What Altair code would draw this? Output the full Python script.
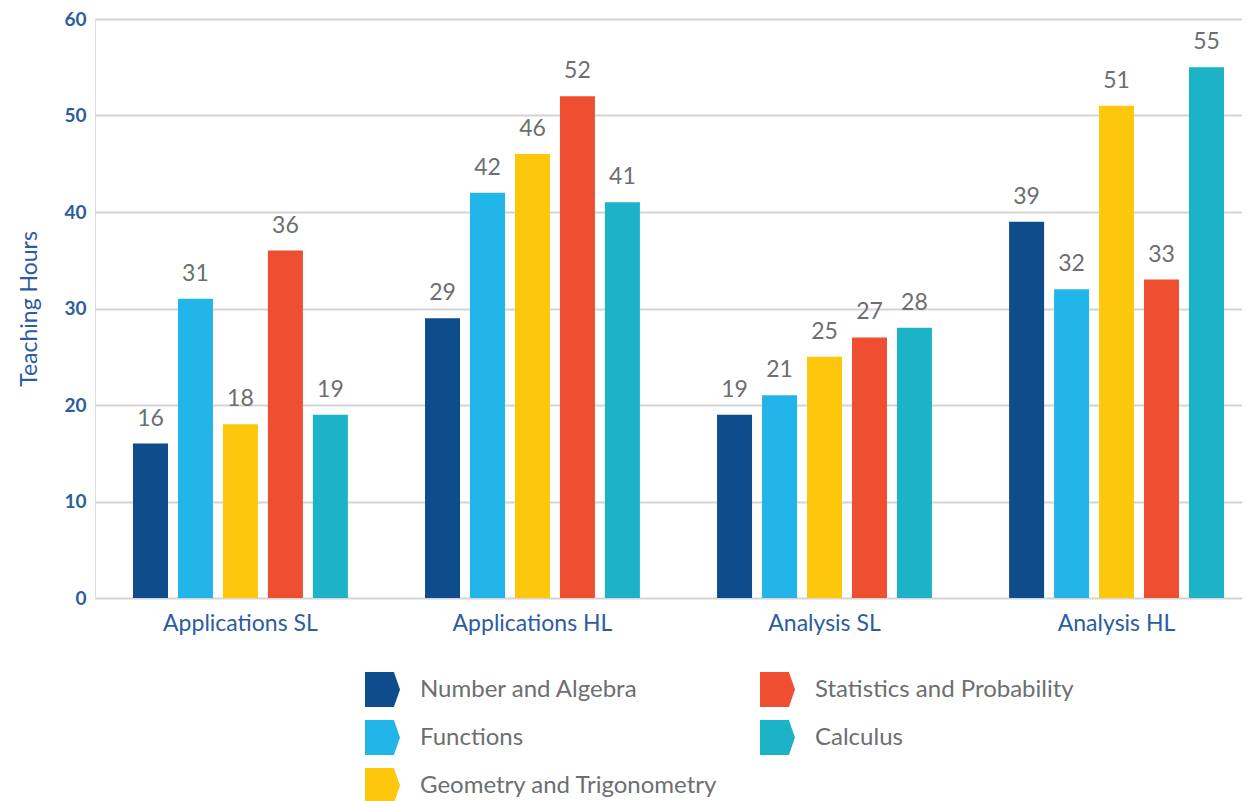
import altair as alt
import pandas as pd

courses = ["Applications SL", "Applications HL", "Analysis SL", "Analysis HL"]
topics = ["Number and Algebra", "Functions", "Geometry and Trigonometry",
          "Statistics and Probability", "Calculus"]
number_algebra = [16, 29, 19, 39]
functions = [31, 42, 21, 32]
geometry = [18, 46, 25, 51]
statistics = [36, 52, 27, 33]
calculus = [19, 41, 28, 55]

series = [number_algebra, functions, geometry, statistics, calculus]
rows = []
for t, vals in zip(topics, series):
    for c, v in zip(courses, vals):
        rows.append({"course": c, "topic": t, "hours": v})
df = pd.DataFrame(rows)

colors = ["#0e4c8c", "#22b5ea", "#fdc80c", "#ee4f31", "#1cb3c9"]

x = alt.X("course:N", sort=courses,
          scale=alt.Scale(paddingInner=0.23, paddingOuter=0.0788, align=0.717),
          axis=alt.Axis(title=None, labelAngle=0, labelFontSize=23,
                        labelColor="#2c5d9f", labelFont="Lato",
                        labelPadding=14, ticks=False, domain=False))
xo = alt.XOffset("topic:N", sort=topics,
                 scale=alt.Scale(paddingInner=0.222, paddingOuter=0.111))
y = alt.Y("hours:Q", scale=alt.Scale(domain=[0, 60]),
          axis=alt.Axis(title="Teaching Hours", values=[0, 10, 20, 30, 40, 50, 60],
                        titleFontSize=23, titleFont="Lato", titleFontWeight="normal",
                        titleColor="#2c5d9f", titlePadding=22,
                        labelFontSize=19, labelFont="Lato", labelColor="#2c5d9f",
                        labelFontWeight="bold", labelPadding=9,
                        ticks=False, domain=False, gridColor="#d4d4d4",
                        gridWidth=2))

color = alt.Color("topic:N",
                  scale=alt.Scale(domain=topics, range=colors),
                  legend=alt.Legend(title=None, orient="none", legendX=270,
                                    legendY=653, columns=2, columnPadding=42,
                                    rowPadding=13, labelFontSize=24,
                                    labelFont="Lato", labelColor="#6d6e71",
                                    labelOffset=20, labelLimit=500, padding=0,
                                    direction="vertical",
                                    symbolType="M-1,-1L0.65,-1L1,0L0.65,1L-1,1Z",
                                    symbolSize=1225, symbolStrokeWidth=0,
                                    symbolOpacity=1))

base = alt.Chart(df).encode(x=x, xOffset=xo, y=y)
bars = base.mark_bar(size=35).encode(color=color)
labels = base.mark_text(dy=-13, fontSize=23, font="Lato", color="#6d6e71",
                        baseline="bottom").encode(text="hours:Q")

chart = (bars + labels).properties(
    width=1147, height=579,
    padding={"top": 2, "left": 10, "right": 0, "bottom": 0},
).configure_view(stroke=None).configure(background="white")

chart.save("out.html", embed_options={"renderer": "svg", "actions": False})
